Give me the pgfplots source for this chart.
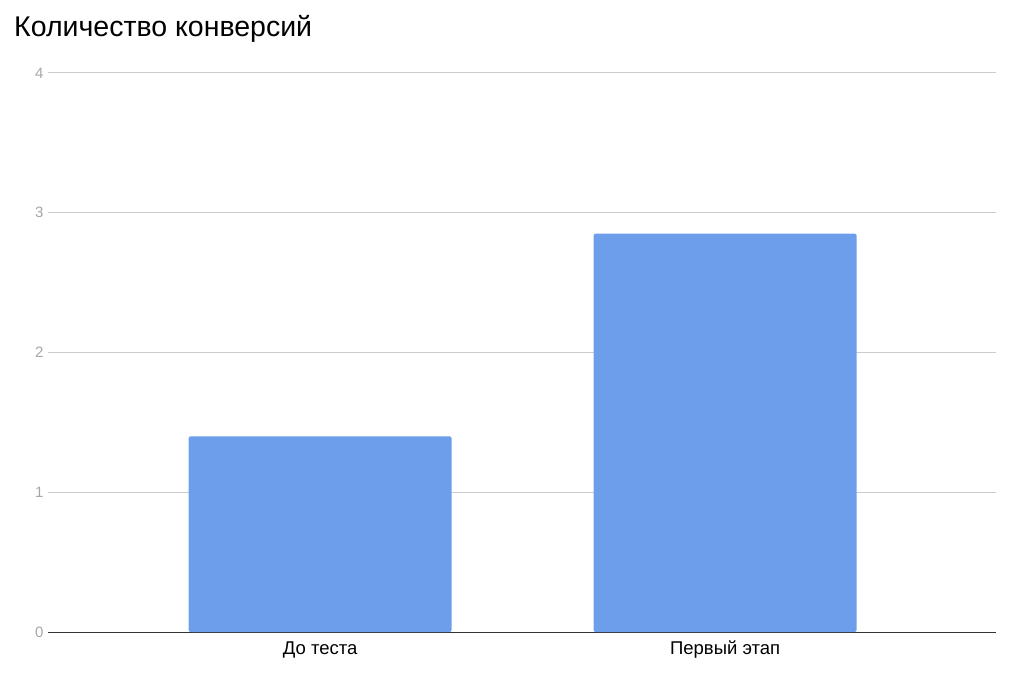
\documentclass[border=0pt]{standalone}
\usepackage{fontspec}
\setmainfont{Liberation Sans}
\usepackage{pgfplots}
\pgfplotsset{compat=1.18}
\definecolor{barblue}{HTML}{6D9EEB}
\definecolor{gridgray}{HTML}{CCCCCC}
\definecolor{ticktext}{HTML}{A6A6A6}
\definecolor{basedark}{HTML}{333333}
\begin{document}
\begin{tikzpicture}
\path[use as bounding box] (-48pt,-46pt) rectangle (976pt,632pt);
\begin{axis}[
  at={(0pt,0pt)}, anchor=south west,
  scale only axis, width=948pt, height=559pt,
  xmin=-0.672, xmax=1.669, ymin=0, ymax=4,
  axis line style={draw=none},
  major tick style={draw=none},
  ytick={1,2,3,4},
  ymajorgrids,
  grid style={gridgray, line width=1pt},
  extra y ticks={0},
  extra y tick style={grid style={basedark, line width=1pt}},
  /pgf/number format/assume math mode=true,
  yticklabel style={font=\fontsize{15}{15}\selectfont, text=ticktext, anchor=east, xshift=-1pt},
  xtick={0,1},
  xticklabels={До теста, Первый этап},
  xticklabel style={font=\fontsize{18.5}{18.5}\selectfont, text=black, anchor=base, yshift=-18pt},
  ybar, bar width=263pt, bar shift=0pt,
]
\addplot[fill=barblue, draw=none, rounded corners=2pt] coordinates {(0,1.4) (1,2.85)};
\end{axis}
\node[anchor=base west, font=\fontsize{28.5}{28.5}\selectfont, inner sep=0pt] at (-34pt,595pt) {Количество конверсий};
\end{tikzpicture}
\end{document}
